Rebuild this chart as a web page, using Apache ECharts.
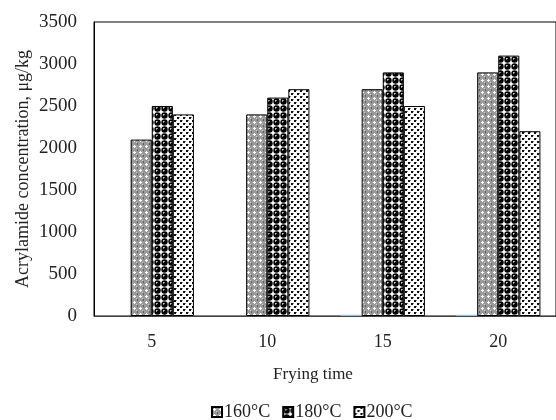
<!DOCTYPE html>
<html>
<head>
<meta charset="utf-8">
<script src="https://cdn.jsdelivr.net/npm/echarts@6/dist/echarts.min.js"></script>
<style>
  html, body { margin: 0; padding: 0; background: #fff; }
  #chart { width: 556px; height: 420px; }
</style>
</head>
<body>
<div id="chart"></div>
<script>
// data
var categories = ['5', '10', '15', '20'];
var seriesNames = ['160°C', '180°C', '200°C'];
var t160 = [2100, 2400, 2700, 2900];
var t180 = [2500, 2600, 2900, 3100];
var t200 = [2400, 2700, 2500, 2200];
var hidden = [0, 0, 15, 15]; // the thin blue marks at the base
var yTicks = { min: 0, max: 3500, step: 500 };

// little pixel tiles for the hatch fills
function tile(size, draw) {
  var c = document.createElement('canvas');
  c.width = size; c.height = size;
  var ctx = c.getContext('2d');
  draw(ctx);
  return { image: c, repeat: 'repeat' };
}
function px(ctx, col, x, y, w, h) { ctx.fillStyle = col; ctx.fillRect(x, y, w || 1, h || 1); }

var pat160 = tile(6, function (ctx) {
  px(ctx, '#9a9a9a', 0, 0, 6, 6);
  px(ctx, '#ffffff', 2, 1, 1, 3);
  px(ctx, '#ffffff', 1, 2, 3, 1);
  px(ctx, '#5e5e5e', 5, 5);
  px(ctx, '#5e5e5e', 5, 0);
  px(ctx, '#d0d0d0', 4, 4);
});
var pat180 = tile(7, function (ctx) {
  px(ctx, '#ffffff', 0, 0, 7, 7);
  ctx.fillStyle = '#000';
  ctx.beginPath(); ctx.arc(3.5, 3.5, 3.2, 0, Math.PI * 2); ctx.fill();
  px(ctx, '#cccccc', 2, 2);
  px(ctx, '#888888', 3, 2);
  px(ctx, '#888888', 2, 3);
});
var pat200 = tile(6, function (ctx) {
  px(ctx, '#ffffff', 0, 0, 6, 6);
  px(ctx, '#111111', 0, 0, 2, 2);
  px(ctx, '#111111', 3, 3, 2, 2);
  px(ctx, '#888888', 2, 0);
  px(ctx, '#888888', 5, 3);
});

var serif = '"Liberation Serif", "DejaVu Serif", serif';

function barSeries(name, data, fill) {
  return {
    name: name,
    type: 'bar',
    data: data,
    barGap: 0,
    barCategoryGap: '27%',
    itemStyle: { color: fill, borderColor: '#000', borderWidth: 1 }
  };
}

var chart = echarts.init(document.getElementById('chart'), null, { renderer: 'canvas' });
chart.setOption({
  backgroundColor: '#fff',
  animation: false,
  textStyle: { fontFamily: serif },
  grid: {
    show: true,
    left: 94, right: -6, top: 22, bottom: 104,
    borderColor: '#000', borderWidth: 1
  },
  legend: {
    data: seriesNames,
    icon: 'rect',
    left: 206, top: 398,
    itemWidth: 10, itemHeight: 10, itemGap: 12,
    textStyle: { fontFamily: serif, fontSize: 18, color: '#222', padding: [0, 0, 0, -3] }
  },
  xAxis: {
    type: 'category',
    data: categories,
    name: 'Frying time',
    nameLocation: 'middle',
    nameGap: 50,
    nameMoveOverlap: false,
    nameTextStyle: { fontFamily: serif, fontSize: 17, color: '#222', padding: [0, 24, 0, 0] },
    axisLine: { show: true, lineStyle: { color: '#444', width: 1 } },
    axisTick: { show: false },
    axisLabel: { fontFamily: serif, fontSize: 18, color: '#222', margin: 17 }
  },
  yAxis: {
    type: 'value',
    min: yTicks.min, max: yTicks.max, interval: yTicks.step,
    name: 'Acrylamide concentration, μg/kg',
    nameLocation: 'middle',
    nameGap: 62,
    nameMoveOverlap: false,
    nameTextStyle: { fontFamily: serif, fontSize: 18, color: '#222' },
    axisLine: { show: true, lineStyle: { color: '#000' } },
    axisTick: { show: false },
    splitLine: { show: false },
    axisLabel: {
      fontFamily: serif, fontSize: 19, color: '#222', margin: 17,
      formatter: function (v) { return String(v); }
    }
  },
  series: [
    {
      name: 'base',
      type: 'bar',
      data: hidden,
      barGap: 0,
      barCategoryGap: '27%',
      itemStyle: { color: '#9dc3e6' }
    },
    barSeries(seriesNames[0], t160, pat160),
    barSeries(seriesNames[1], t180, pat180),
    barSeries(seriesNames[2], t200, pat200)
  ]
});
</script>
</body>
</html>
